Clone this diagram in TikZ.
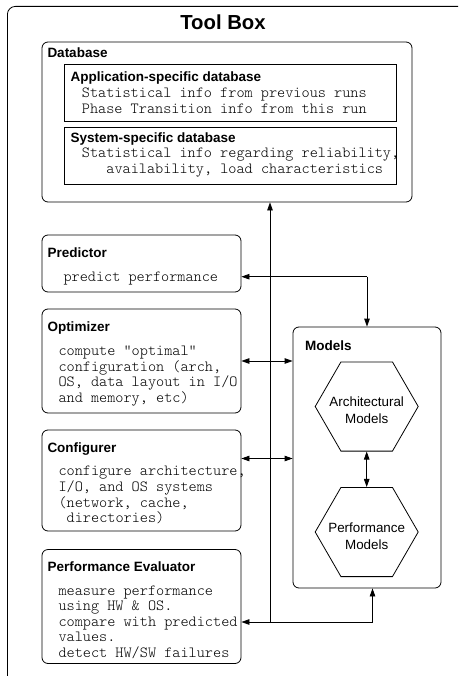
\documentclass[tikz,border=0pt]{standalone}
\usepackage{fontspec}
\setmainfont{Liberation Sans}
\newfontfamily\monofont{lmmonolt10-regular}[Extension=.otf]
\usetikzlibrary{arrows.meta,shapes.geometric}
\tikzset{
  rbox/.style={draw=black,line width=0.8pt,rounded corners=6pt,inner sep=0pt},
  sbox/.style={draw=black,line width=0.8pt,inner sep=0pt},
  hexa/.style={draw=black,line width=0.8pt,regular polygon,regular polygon sides=6,minimum size=103pt,inner sep=0pt},
  hd/.style={font=\fontsize{13.5}{16}\selectfont\bfseries,anchor=base west,inner sep=0pt},
  mono/.style={font=\monofont\fontsize{15.5}{15.8}\selectfont,anchor=base west,inner sep=0pt},
  hext/.style={font=\fontsize{13.4}{17}\selectfont,align=center,inner sep=0pt},
  conn/.style={line width=0.8pt,-{Triangle[length=8pt,width=5.5pt]}},
  conn2/.style={line width=0.8pt,{Triangle[length=8pt,width=5.5pt]}-{Triangle[length=8pt,width=5.5pt]}}
}
\begin{document}
\begin{tikzpicture}[x=1pt,y=-1pt]
\useasboundingbox (0,0) rectangle (458,676);
\clip (0,0) rectangle (458,676);
\fill[white] (0,0) rectangle (458,676);
% outer box
\node[rbox,rounded corners=8pt,minimum width=470pt,minimum height=690pt,anchor=north west] (toolbox) at (7,6) {};
\node[font=\fontsize{20.3}{24}\selectfont\bfseries,anchor=base,inner sep=0pt] (title) at (223,30) {Tool Box};
% database
\node[rbox,minimum width=370pt,minimum height=160pt] (db) at (227,122) {};
\node[hd] (dbh) at (47.3,57.3) {Database};
\node[sbox,minimum width=332pt,minimum height=57pt] (app) at (230,92.5) {};
\node[hd] (apph) at (70.5,81.7) {Application-specific database};
\node[mono] (app1) at (81.7,97.5) {Statistical info from previous runs};
\node[mono] (app2) at (81.7,113.3) {Phase Transition info from this run};
\node[sbox,minimum width=332pt,minimum height=57pt] (sys) at (230,155.5) {};
\node[hd] (sysh) at (70.5,142.3) {System-specific database};
\node[mono] (sys1) at (81.7,157.5) {Statistical info regarding reliability,};
\node[mono] (sys2) at (106.2,173.3) {availability, load characteristics};
% predictor
\node[rbox,minimum width=199pt,minimum height=57pt] (pred) at (141.5,263.5) {};
\node[hd] (predh) at (47.3,257.3) {Predictor};
\node[mono] (pred1) at (63.3,281) {predict performance};
% optimizer
\node[rbox,minimum width=199pt,minimum height=104pt] (opt) at (141.5,361) {};
\node[hd] (opth) at (47.3,331) {Optimizer};
\node[mono] (opt1) at (58.3,355.3) {compute "optimal"};
\node[mono] (opt2) at (58.3,371.1) {configuration (arch,};
\node[mono] (opt3) at (58.3,386.9) {OS, data layout in I/O};
\node[mono] (opt4) at (58.3,402.7) {and memory, etc)};
% configurer
\node[rbox,minimum width=199pt,minimum height=101pt] (conf) at (141.5,480.5) {};
\node[hd] (confh) at (47.3,452) {Configurer};
\node[mono] (conf1) at (58.3,475.5) {configure architecture,};
\node[mono] (conf2) at (58.3,491.3) {I/O, and OS systems};
\node[mono] (conf3) at (58.3,507.1) {(network, cache,};
\node[mono] (conf4) at (66.5,522.9) {directories)};
% performance evaluator
\node[rbox,minimum width=199pt,minimum height=114pt] (pe) at (141.5,606.5) {};
\node[hd] (peh) at (47.3,571.7) {Performance Evaluator};
\node[mono] (pe1) at (58.3,595) {measure performance};
\node[mono] (pe2) at (58.3,610.6) {using HW \& OS.};
\node[mono] (pe3) at (58.3,626.2) {compare with predicted};
\node[mono] (pe4) at (58.3,641.8) {values.};
\node[mono] (pe5) at (58.3,657.4) {detect HW/SW failures};
% models
\node[rbox,minimum width=148pt,minimum height=261pt] (models) at (367,457.5) {};
\node[hd] (modh) at (305,350) {Models};
\node[hexa] (arch) at (366.7,406.5) {};
\node[hext] (archt) at (366.7,410.5) {Architectural\\Models};
\node[hexa] (perf) at (366.7,532) {};
\node[hext] (perft) at (366.7,536) {Performance\\Models};
% connectors
\coordinate (jp) at (367,276.7);
\coordinate (jd) at (270,622);
\coordinate (je) at (372.5,622);
\coordinate (jc) at (267,458.5);
\draw[conn] (jp) -- (pred.east |- jp);
\draw[conn] (jp) -- (models.north);
\draw[conn] (jd) -- (jd |- db.south);
\draw[conn] (je) -- (pe.east |- je);
\draw[conn] (je) -- (je |- models.south);
\draw[conn2] (opt.east) -- (opt.east -| models.west);
\draw[conn2] (conf.east |- jc) -- (models.west |- jc);
\draw[conn2] (arch.south) -- (perf.north);
\end{tikzpicture}
\end{document}
